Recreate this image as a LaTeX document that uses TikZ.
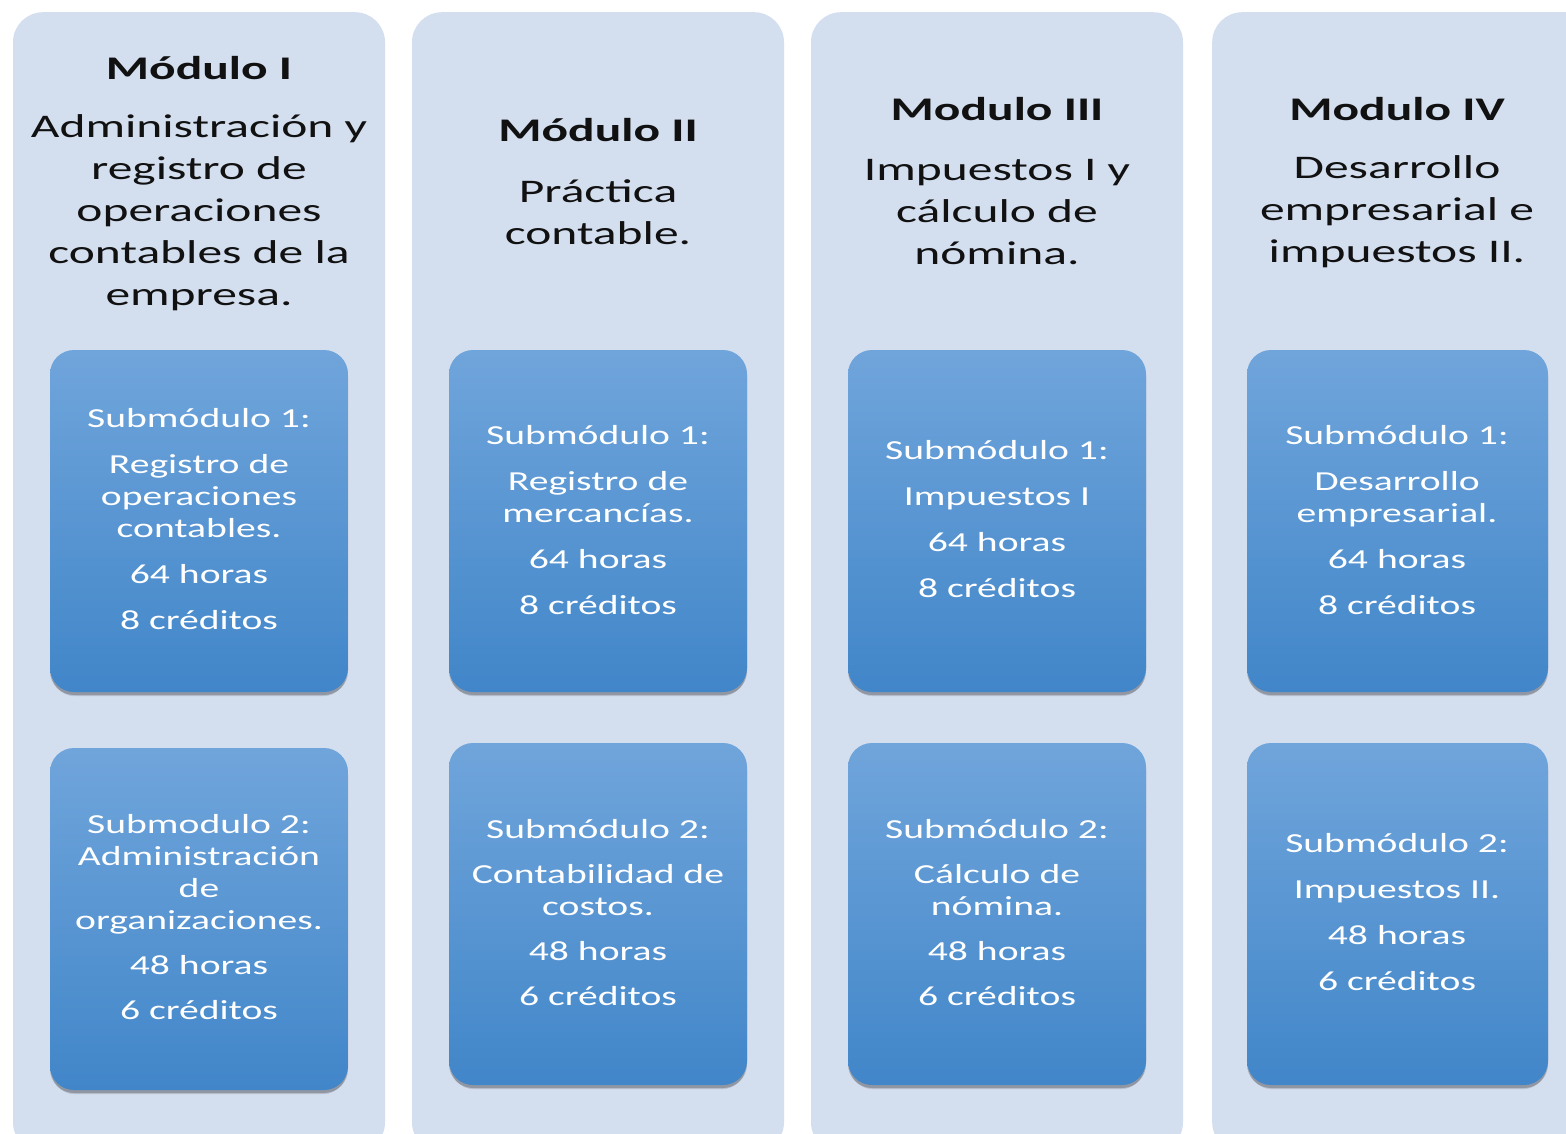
\documentclass[tikz,border=0pt]{standalone}
\usepackage{fontspec}
\setmainfont{Carlito}[FakeStretch=1.38]
\newfontfamily\headfont{Carlito}[FakeStretch=1.50]
\newfontfamily\subfont{Carlito}[FakeStretch=1.44]
\usetikzlibrary{shadows}
\definecolor{panelc}{HTML}{D3DEEF}
\definecolor{boxtop}{HTML}{70A5DB}
\definecolor{boxbot}{HTML}{4186C9}
\definecolor{txt}{HTML}{111111}
\tikzset{
  panel/.style={fill=panelc, rounded corners=30pt, draw=none, minimum width=372pt, minimum height=1140pt, anchor=north, inner sep=0pt},
  subbox/.style={minimum width=298pt, minimum height=342pt, rounded corners=24pt, top color=boxtop, bottom color=boxbot, draw=none,
    drop shadow={shadow xshift=0pt, shadow yshift=-3pt, opacity=0.22, fill=black},
    drop shadow={shadow xshift=0pt, shadow yshift=-6pt, shadow scale=0.99, opacity=0.12, fill=black}},
  title/.style={font=\headfont\fontsize{33}{40}\selectfont\bfseries, text=txt, align=center},
  desc/.style={font=\headfont\fontsize{33}{42}\selectfont, text=txt, align=center},
  subtext/.style={font=\subfont\fontsize{27.5}{32}\selectfont, text=white, align=center}
}
\begin{document}
\begin{tikzpicture}[x=1pt,y=-1pt]
\clip (0,0) rectangle (1566,1133);
\fill[white] (0,0) rectangle (1566,1133);
% panels
\node[panel] (p1) at (199,12) {};
\node[panel] (p2) at (598,12) {};
\node[panel] (p3) at (997,12) {};
\node[panel, minimum width=400pt, anchor=north west] (p4) at (1212,12) {};
% titles
\node[title] (t1) at (199,68) {Módulo I};
\node[desc] (d1) at (199,212.5) {Administración y\\registro de\\operaciones\\contables de la\\empresa.};
\node[title] (t2) at (598,130) {Módulo II};
\node[desc] (d2) at (598,212) {Práctica\\contable.};
\node[title] (t3) at (997,109) {Modulo III};
\node[desc] (d3) at (997,212) {Impuestos I y\\cálculo de\\nómina.};
\node[title] (t4) at (1397,109) {Modulo IV};
\node[desc] (d4) at (1397,212) {Desarrollo\\empresarial e\\impuestos II.};
% submodule boxes
\node[subbox] (s11) at (199,521) {};
\node[subbox] (s12) at (199,919) {};
\node[subbox] (s21) at (598,521) {};
\node[subbox] (s22) at (598,914) {};
\node[subbox] (s31) at (997,521) {};
\node[subbox] (s32) at (997,914) {};
\node[subbox, minimum width=301pt] (s41) at (1397.5,521) {};
\node[subbox, minimum width=301pt] (s42) at (1397.5,914) {};
% submodule texts
\node[subtext] (x11) at (199,519.5) {Submódulo 1:\\[14pt]Registro de\\operaciones\\contables.\\[14pt]64 horas\\[14pt]8 créditos};
\node[subtext] (x12) at (199,917.5) {Submodulo 2:\\Administración\\de\\organizaciones.\\[13pt]48 horas\\[13pt]6 créditos};
\node[subtext] (x21) at (598,520) {Submódulo 1:\\[14pt]Registro de\\mercancías.\\[14pt]64 horas\\[14pt]8 créditos};
\node[subtext] (x22) at (598,912.5) {Submódulo 2:\\[13pt]Contabilidad de\\costos.\\[13pt]48 horas\\[13pt]6 créditos};
\node[subtext] (x31) at (997,519) {Submódulo 1:\\[14pt]Impuestos I\\[14pt]64 horas\\[14pt]8 créditos};
\node[subtext] (x32) at (997,912.5) {Submódulo 2:\\[13pt]Cálculo de\\nómina.\\[13pt]48 horas\\[13pt]6 créditos};
\node[subtext] (x41) at (1397,520) {Submódulo 1:\\[14pt]Desarrollo\\empresarial.\\[14pt]64 horas\\[14pt]8 créditos};
\node[subtext] (x42) at (1397,912) {Submódulo 2:\\[14pt]Impuestos II.\\[14pt]48 horas\\[14pt]6 créditos};
\end{tikzpicture}
\end{document}
